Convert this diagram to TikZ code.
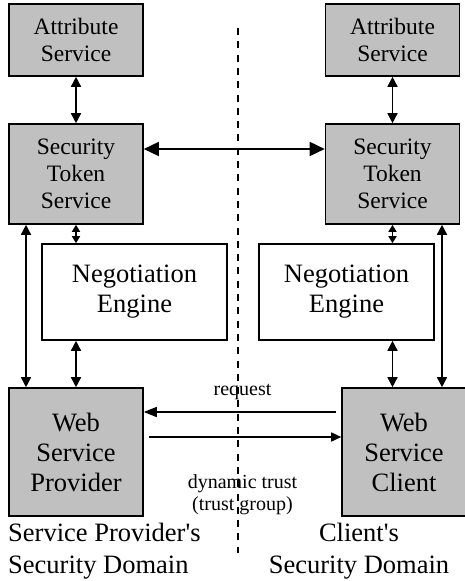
\documentclass[tikz,border=0pt]{standalone}
\usepackage{fontspec}
\setmainfont{Liberation Serif}
\usetikzlibrary{arrows.meta,positioning}
\definecolor{boxgray}{RGB}{192,192,192}

\begin{document}
\begin{tikzpicture}[x=1pt,y=1pt,
  sbox/.style={fill=boxgray, draw=black, line width=1.6pt, align=center, inner sep=0pt, minimum width=134pt, font=\fontsize{23.5}{27}\selectfont},
  wsbox/.style={sbox, minimum height=128pt, font=\fontsize{26.5}{30}\selectfont},
  nbox/.style={draw=black, line width=1.6pt, align=center, inner sep=0pt, minimum height=96pt, font=\fontsize{26.5}{30}\selectfont},
  lbl/.style={inner sep=0pt, align=center, font=\fontsize{20}{22}\selectfont},
  dom/.style={inner sep=0pt, font=\fontsize{26.5}{31.5}\selectfont},
  link/.style={line width=1.6pt, {Triangle[length=10pt,width=10pt]}-{Triangle[length=10pt,width=10pt]}},
  tinylink/.style={line width=1.6pt, {Triangle[length=7pt,width=8pt]}-{Triangle[length=7pt,width=8pt]}}
  ]
  \useasboundingbox (0,0) rectangle (464,-581);

  % provider side
  \node (attrL) [sbox, minimum height=72pt] at (76,-40) {Attribute\\Service};
  \node (stsL) [sbox, minimum height=100pt] at (76,-174) {Security\\Token\\Service};
  \node (negL) [nbox, minimum width=185pt] at (134.5,-292) {Negotiation\\Engine};
  \node (wsp) [wsbox] at (76,-452) {Web\\Service\\Provider};
  \node (domL) [dom, align=left, anchor=base west] at (8,-573) {Service Provider\textquotesingle s\\Security Domain};

  % client side
  \node (attrR) [sbox, minimum height=72pt] at (392.5,-40) {Attribute\\Service};
  \node (stsR) [sbox, minimum height=100pt] at (392.5,-174) {Security\\Token\\Service};
  \node (negR) [nbox, minimum width=175pt] at (346.5,-292) {Negotiation\\Engine};
  \node (wsc) [wsbox, minimum width=124pt] at (404,-452) {Web\\Service\\Client};
  \node (domR) [dom, align=center, anchor=base] at (359,-573) {Client\textquotesingle s\\Security Domain};

  \path [link]
  (attrL) edge (stsL)
  (attrR) edge (stsR)
  ([xshift=-50pt]stsL.south) edge ([xshift=-50pt]wsp.north)
  ([xshift=49.5pt]stsR.south) edge ([xshift=49.5pt]stsR.south |- wsc.north)
  (wsp.north |- negL.south) edge (wsp.north)
  (stsR.south |- negR.south) edge (stsR.south |- wsc.north)
  ([yshift=25pt]stsL.east) edge [{Triangle[length=15pt,width=14pt]}-{Triangle[length=15pt,width=14pt]}] ([yshift=25pt]stsR.west);

  \path [tinylink]
  (stsL.south) edge (stsL.south |- negL.north)
  (stsR.south) edge (stsR.south |- negR.north);

  \path [line width=1.6pt]
  ([yshift=40pt]wsc.west) edge [-{Triangle[length=13pt,width=10pt]}, shorten <=5pt] node (req) [lbl, above=11pt] {request} ([yshift=40pt]wsp.east)
  ([yshift=15pt]wsp.east) edge [-{Triangle[length=10pt,width=9pt]}, shorten <=5pt] node (dyn) [lbl, below=37pt] {dynamic trust\\(trust group)} ([yshift=15pt]wsc.west);

  % domain border
  \coordinate (divtop) at (238,-28);
  \coordinate (divbot) at (238,-553);
  \draw [line width=1.6pt, dash pattern=on 7pt off 6.3pt] (divtop) -- (divbot);
\end{tikzpicture}
\end{document}
